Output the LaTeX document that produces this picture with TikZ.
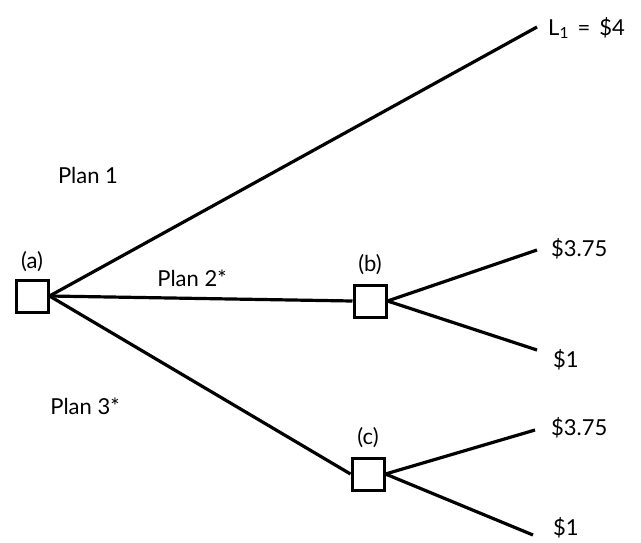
\documentclass[tikz,border=0pt]{standalone}
\usepackage{fontspec}
\setmainfont{Lato}
\begin{document}
\begin{tikzpicture}[x=1pt,y=-1pt,
  box/.style={draw,line width=3pt,minimum size=32pt,inner sep=0pt},
  edge/.style={line width=3.2pt},
  lbl/.style={font=\fontsize{22}{26}\selectfont,inner sep=0pt}]
\useasboundingbox (0,0) rectangle (641,542);
\node[box] (a) at (32,296) {};
\node[box] (b) at (370,301) {};
\node[box] (c) at (368,474) {};
\node[lbl] (la) at (32,262) {(a)};
\node[lbl] (lb) at (370,265) {(b)};
\node[lbl] (lc) at (368,438) {(c)};
\coordinate (e1) at (537,27);
\coordinate (e2) at (537,250);
\coordinate (e3) at (537,350);
\coordinate (e4) at (535,430);
\coordinate (e5) at (533,535);
\node[lbl,anchor=west] (t1) at (548,28) {L\textsubscript{1}\hspace{0.4em}=\hspace{0.4em}\$4};
\node[lbl,anchor=west] (t2) at (551,249) {\$3.75};
\node[lbl,anchor=west] (t3) at (553,360) {\$1};
\node[lbl,anchor=west] (t4) at (551,428) {\$3.75};
\node[lbl,anchor=west] (t5) at (553,528) {\$1};
\node[lbl] (p1) at (88,175) {Plan 1};
\node[lbl] (p2) at (192,278) {Plan 2*};
\node[lbl] (p3) at (85,406) {Plan 3*};
\draw[edge] (a.east) -- (e1);
\draw[edge] (a.east) -- (b.west);
\draw[edge] (a.east) -- (c.west);
\draw[edge] (b.east) -- (e2);
\draw[edge] (b.east) -- (e3);
\draw[edge] (c.east) -- (e4);
\draw[edge] (c.east) -- (e5);
\end{tikzpicture}
\end{document}
